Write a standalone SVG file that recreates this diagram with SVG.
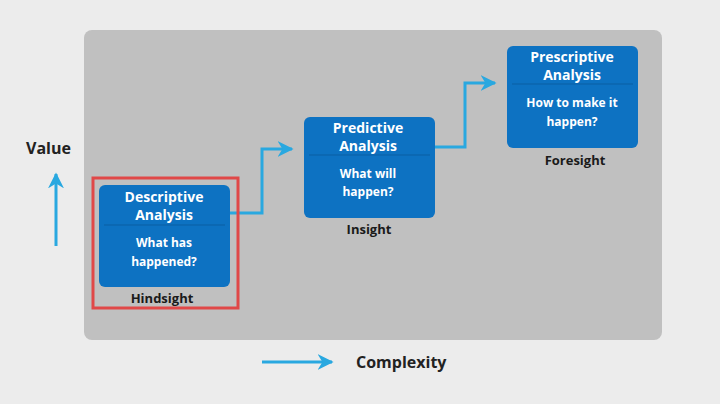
<svg xmlns="http://www.w3.org/2000/svg" width="720" height="404" viewBox="0 0 720 404">
<defs>
<marker id="ah2" viewBox="0 0 10 10" markerWidth="16" markerHeight="16" refX="9" refY="5" orient="auto" markerUnits="userSpaceOnUse"><path d="M0,0 L10,5 L0,10 L3,5 Z" fill="#29a8e0"/></marker>
</defs>
<style>
.box{fill:#0d72c2}
.div{stroke:#0a5fa3;stroke-width:1}
.t{font-family:"Open Sans","Liberation Sans",sans-serif;font-weight:bold;fill:#fff;text-anchor:middle}
.h{font-size:14px}
.q{font-size:12px}
.lbl{font-family:"Open Sans","Liberation Sans",sans-serif;font-weight:bold;fill:#1a1a1a;text-anchor:middle;font-size:13px}
.c{fill:none;stroke:#29a8e0;stroke-width:3}
.ax{font-family:"Open Sans","Liberation Sans",sans-serif;font-weight:bold;fill:#222;font-size:16px}
</style>
<rect width="720" height="404" fill="#ececec"/>
<rect x="84" y="30" width="578" height="310" rx="8" fill="#c0c0c0"/>
<g id="connectors">
<path class="c" d="M230,213 H262 V149 H292" marker-end="url(#ah2)"/>
<path class="c" d="M435,147 H465 V83 H495" marker-end="url(#ah2)"/>
<path class="c" d="M56,246 V174" marker-end="url(#ah2)"/>
<path class="c" d="M262,362 H332" marker-end="url(#ah2)"/>
</g>
<g id="descriptive">
<rect x="93" y="178" width="145" height="130" fill="none" stroke="#e04848" stroke-width="3"/>
<rect class="box" x="99" y="185" width="131" height="102" rx="6"/>
<line class="div" x1="104" y1="225" x2="225" y2="225"/>
<text class="t h" x="164" y="202">Descriptive</text>
<text class="t h" x="164" y="220">Analysis</text>
<text class="t q" x="164" y="247">What has</text>
<text class="t q" x="164" y="266">happened?</text>
<text class="lbl" x="162" y="303">Hindsight</text>
</g>
<g id="predictive">
<rect class="box" x="304" y="117" width="131" height="101" rx="6"/>
<line class="div" x1="309" y1="155" x2="430" y2="155"/>
<text class="t h" x="368" y="133">Predictive</text>
<text class="t h" x="368" y="151">Analysis</text>
<text class="t q" x="368" y="178">What will</text>
<text class="t q" x="368" y="196">happen?</text>
<text class="lbl" x="369" y="234">Insight</text>
</g>
<g id="prescriptive">
<rect class="box" x="507" y="46" width="131" height="102" rx="6"/>
<line class="div" x1="512" y1="84" x2="633" y2="84"/>
<text class="t h" x="572" y="62">Prescriptive</text>
<text class="t h" x="572" y="80">Analysis</text>
<text class="t q" x="572" y="107">How to make it</text>
<text class="t q" x="572" y="126">happen?</text>
<text class="lbl" x="575" y="165">Foresight</text>
</g>
<text class="ax" x="26" y="154">Value</text>
<text class="ax" x="356" y="368">Complexity</text>
</svg>
